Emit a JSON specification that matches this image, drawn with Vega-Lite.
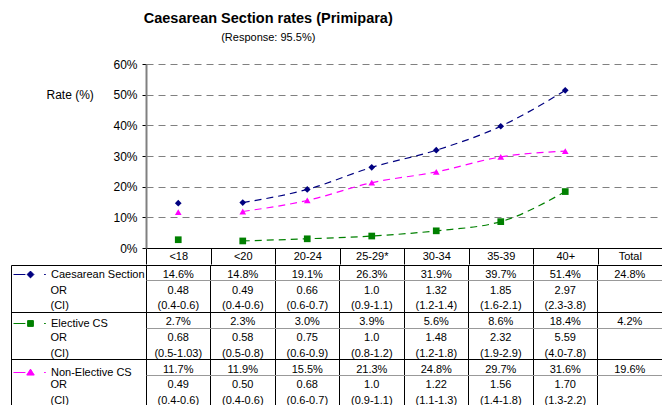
{
  "$schema": "https://vega.github.io/schema/vega-lite/v6.json",
  "padding": {"left": 10, "top": 10, "right": 0, "bottom": 0},
  "spacing": -10,
  "config": {
    "font": "Liberation Sans",
    "view": {"stroke": null},
    "legend": {"padding": 0, "symbolOpacity": 1, "symbolStrokeWidth": 1}
  },
  "title": {
    "text": "Caesarean Section rates (Primipara)",
    "subtitle": "(Response: 95.5%)",
    "fontSize": 14.5,
    "fontWeight": "bold",
    "color": "black",
    "subtitleFontSize": 11,
    "subtitleColor": "black",
    "subtitlePadding": 6,
    "anchor": "middle",
    "dx": -68,
    "offset": 14
  },
  "datasets": {
    "rates": [
      {"age": "<18", "series": "Caesarean Section", "rate": 14.6},
      {"age": "<20", "series": "Caesarean Section", "rate": 14.8},
      {"age": "20-24", "series": "Caesarean Section", "rate": 19.1},
      {"age": "25-29*", "series": "Caesarean Section", "rate": 26.3},
      {"age": "30-34", "series": "Caesarean Section", "rate": 31.9},
      {"age": "35-39", "series": "Caesarean Section", "rate": 39.7},
      {"age": "40+", "series": "Caesarean Section", "rate": 51.4},
      {"age": "<18", "series": "Elective CS", "rate": 2.7},
      {"age": "<20", "series": "Elective CS", "rate": 2.3},
      {"age": "20-24", "series": "Elective CS", "rate": 3.0},
      {"age": "25-29*", "series": "Elective CS", "rate": 3.9},
      {"age": "30-34", "series": "Elective CS", "rate": 5.6},
      {"age": "35-39", "series": "Elective CS", "rate": 8.6},
      {"age": "40+", "series": "Elective CS", "rate": 18.4},
      {"age": "<18", "series": "Non-Elective CS", "rate": 11.7},
      {"age": "<20", "series": "Non-Elective CS", "rate": 11.9},
      {"age": "20-24", "series": "Non-Elective CS", "rate": 15.5},
      {"age": "25-29*", "series": "Non-Elective CS", "rate": 21.3},
      {"age": "30-34", "series": "Non-Elective CS", "rate": 24.8},
      {"age": "35-39", "series": "Non-Elective CS", "rate": 29.7},
      {"age": "40+", "series": "Non-Elective CS", "rate": 31.6}
    ],
    "table": [
      {"r": "cs_pct", "c": "<18", "t": "14.6%"},
      {"r": "cs_pct", "c": "<20", "t": "14.8%"},
      {"r": "cs_pct", "c": "20-24", "t": "19.1%"},
      {"r": "cs_pct", "c": "25-29*", "t": "26.3%"},
      {"r": "cs_pct", "c": "30-34", "t": "31.9%"},
      {"r": "cs_pct", "c": "35-39", "t": "39.7%"},
      {"r": "cs_pct", "c": "40+", "t": "51.4%"},
      {"r": "cs_pct", "c": "Total", "t": "24.8%"},
      {"r": "cs_or", "c": "<18", "t": "0.48"},
      {"r": "cs_or", "c": "<20", "t": "0.49"},
      {"r": "cs_or", "c": "20-24", "t": "0.66"},
      {"r": "cs_or", "c": "25-29*", "t": "1.0"},
      {"r": "cs_or", "c": "30-34", "t": "1.32"},
      {"r": "cs_or", "c": "35-39", "t": "1.85"},
      {"r": "cs_or", "c": "40+", "t": "2.97"},
      {"r": "cs_ci", "c": "<18", "t": "(0.4-0.6)"},
      {"r": "cs_ci", "c": "<20", "t": "(0.4-0.6)"},
      {"r": "cs_ci", "c": "20-24", "t": "(0.6-0.7)"},
      {"r": "cs_ci", "c": "25-29*", "t": "(0.9-1.1)"},
      {"r": "cs_ci", "c": "30-34", "t": "(1.2-1.4)"},
      {"r": "cs_ci", "c": "35-39", "t": "(1.6-2.1)"},
      {"r": "cs_ci", "c": "40+", "t": "(2.3-3.8)"},
      {"r": "e_pct", "c": "<18", "t": "2.7%"},
      {"r": "e_pct", "c": "<20", "t": "2.3%"},
      {"r": "e_pct", "c": "20-24", "t": "3.0%"},
      {"r": "e_pct", "c": "25-29*", "t": "3.9%"},
      {"r": "e_pct", "c": "30-34", "t": "5.6%"},
      {"r": "e_pct", "c": "35-39", "t": "8.6%"},
      {"r": "e_pct", "c": "40+", "t": "18.4%"},
      {"r": "e_pct", "c": "Total", "t": "4.2%"},
      {"r": "e_or", "c": "<18", "t": "0.68"},
      {"r": "e_or", "c": "<20", "t": "0.58"},
      {"r": "e_or", "c": "20-24", "t": "0.75"},
      {"r": "e_or", "c": "25-29*", "t": "1.0"},
      {"r": "e_or", "c": "30-34", "t": "1.48"},
      {"r": "e_or", "c": "35-39", "t": "2.32"},
      {"r": "e_or", "c": "40+", "t": "5.59"},
      {"r": "e_ci", "c": "<18", "t": "(0.5-1.03)"},
      {"r": "e_ci", "c": "<20", "t": "(0.5-0.8)"},
      {"r": "e_ci", "c": "20-24", "t": "(0.6-0.9)"},
      {"r": "e_ci", "c": "25-29*", "t": "(0.8-1.2)"},
      {"r": "e_ci", "c": "30-34", "t": "(1.2-1.8)"},
      {"r": "e_ci", "c": "35-39", "t": "(1.9-2.9)"},
      {"r": "e_ci", "c": "40+", "t": "(4.0-7.8)"},
      {"r": "n_pct", "c": "<18", "t": "11.7%"},
      {"r": "n_pct", "c": "<20", "t": "11.9%"},
      {"r": "n_pct", "c": "20-24", "t": "15.5%"},
      {"r": "n_pct", "c": "25-29*", "t": "21.3%"},
      {"r": "n_pct", "c": "30-34", "t": "24.8%"},
      {"r": "n_pct", "c": "35-39", "t": "29.7%"},
      {"r": "n_pct", "c": "40+", "t": "31.6%"},
      {"r": "n_pct", "c": "Total", "t": "19.6%"},
      {"r": "n_or", "c": "<18", "t": "0.49"},
      {"r": "n_or", "c": "<20", "t": "0.50"},
      {"r": "n_or", "c": "20-24", "t": "0.68"},
      {"r": "n_or", "c": "25-29*", "t": "1.0"},
      {"r": "n_or", "c": "30-34", "t": "1.22"},
      {"r": "n_or", "c": "35-39", "t": "1.56"},
      {"r": "n_or", "c": "40+", "t": "1.70"},
      {"r": "n_ci", "c": "<18", "t": "(0.4-0.6)"},
      {"r": "n_ci", "c": "<20", "t": "(0.4-0.6)"},
      {"r": "n_ci", "c": "20-24", "t": "(0.6-0.7)"},
      {"r": "n_ci", "c": "25-29*", "t": "(0.9-1.1)"},
      {"r": "n_ci", "c": "30-34", "t": "(1.1-1.3)"},
      {"r": "n_ci", "c": "35-39", "t": "(1.4-1.8)"},
      {"r": "n_ci", "c": "40+", "t": "(1.3-2.2)"}
    ]
  },
  "resolve": {
    "scale": {"color": "independent", "shape": "independent", "fill": "independent", "stroke": "independent"},
    "legend": {"color": "independent", "shape": "independent", "fill": "independent", "stroke": "independent"}
  },
  "vconcat": [
    {
      "width": 516,
      "height": 184,
      "data": {"name": "rates"},
      "encoding": {
        "x": {
          "field": "age",
          "type": "nominal",
          "sort": null,
          "scale": {"type": "band", "domain": ["<18", "<20", "20-24", "25-29*", "30-34", "35-39", "40+", "Total"], "paddingInner": 0, "paddingOuter": 0},
          "axis": {"title": null, "labelAngle": 0, "tickBand": "extent", "tickSize": 16, "tickColor": "black", "domainColor": "black", "labelPadding": -14, "labelFontSize": 11, "labelColor": "black", "grid": false}
        },
        "y": {
          "field": "rate",
          "type": "quantitative",
          "scale": {"domain": [0, 60], "nice": false},
          "axis": {
            "values": [0, 10, 20, 30, 40, 50, 60],
            "labelExpr": "datum.value + '%'",
            "labelFontSize": 12,
            "labelColor": "black",
            "tickColor": "black",
            "tickSize": 4,
            "labelPadding": 5,
            "domainColor": "#808080",
            "domainWidth": 2,
            "grid": true,
            "gridColor": "#808080",
            "gridDash": [7, 5],
            "gridWidth": 1,
            "title": "Rate (%)",
            "titleAngle": 0,
            "titleX": -100,
            "titleY": 30,
            "titleAlign": "left",
            "titleBaseline": "middle",
            "titleFontSize": 12,
            "titleFontWeight": "normal",
            "titleColor": "black"
          }
        },
        "color": {
          "field": "series",
          "type": "nominal",
          "scale": {"domain": ["Caesarean Section", "Elective CS", "Non-Elective CS"], "range": ["#000080", "#008000", "#FF00FF"]},
          "legend": null
        }
      },
      "layer": [
        {
          "transform": [{"filter": "datum.age !== '<18'"}],
          "mark": {"type": "line", "interpolate": "monotone", "strokeDash": [7, 5], "strokeWidth": 1.2}
        },
        {
          "mark": {"type": "point", "filled": true, "size": 45, "opacity": 1},
          "encoding": {
            "shape": {
              "field": "series",
              "type": "nominal",
              "scale": {"domain": ["Caesarean Section", "Elective CS", "Non-Elective CS"], "range": ["diamond", "square", "triangle-up"]},
              "legend": null
            }
          }
        }
      ]
    },
    {
      "width": 516,
      "height": 142,
      "view": {"stroke": "black"},
      "layer": [
        {
          "data": {"name": "table"},
          "mark": {"type": "text", "fontSize": 11, "color": "black", "dy": 2},
          "encoding": {
            "x": {
              "field": "c",
              "type": "nominal",
              "sort": null,
              "scale": {"type": "band", "domain": ["<18", "<20", "20-24", "25-29*", "30-34", "35-39", "40+", "Total"], "paddingInner": 0, "paddingOuter": 0},
              "axis": {"title": null, "labels": false, "ticks": false, "domain": false, "grid": true, "gridColor": "black", "gridWidth": 1, "bandPosition": 0}
            },
            "y": {
              "field": "r",
              "type": "nominal",
              "sort": null,
              "scale": {"type": "band", "domain": ["cs_pct", "cs_or", "cs_ci", "e_pct", "e_or", "e_ci", "n_pct", "n_or", "n_ci"], "paddingInner": 0, "paddingOuter": 0},
              "axis": {
                "title": null,
                "orient": "left",
                "offset": 135,
                "tickSize": -135,
                "bandPosition": 0,
                "tickColor": "black",
                "tickOpacity": {"condition": {"test": "test(/_pct/, datum.value)", "value": 1}, "value": 0},
                "domainColor": "black",
                "grid": true,
                "gridColor": {"condition": {"test": "test(/_pct/, datum.value)", "value": "black"}, "value": "#999999"},
                "gridOpacity": {"condition": {"test": "test(/_ci/, datum.value)", "value": 0}, "value": 1},
                "labelExpr": "test(/_or/, datum.value) ? 'OR' : test(/_ci/, datum.value) ? '(CI)' : ''",
                "labelAlign": "left",
                "labelBaseline": "middle",
                "labelOffset": 2,
                "labelPadding": 96,
                "labelFontSize": 11,
                "labelColor": "black"
              }
            },
            "text": {"field": "t"}
          }
        },
        {
          "data": {"name": "rates"},
          "transform": [{"filter": "datum.age === '40+'"}],
          "mark": {"type": "point", "opacity": 0},
          "encoding": {
            "shape": {
              "field": "series",
              "type": "nominal",
              "scale": {"domain": ["Caesarean Section", "Elective CS", "Non-Elective CS"], "range": ["M-1,0H-0.3M0,-0.2L0.2,0L0,0.2L-0.2,0ZM0.8,0H0.9", "M-1,0H-0.3M-0.17,-0.17H0.17V0.17H-0.17ZM0.8,0H0.9", "M-1,0H-0.3M0,-0.2L0.22,0.15H-0.22ZM0.8,0H0.9"]},
              "legend": {"title": null, "orient": "none", "legendX": -133, "legendY": -8, "direction": "vertical", "symbolSize": 1156, "rowPadding": 26, "labelFontSize": 11, "labelColor": "black", "labelOffset": 3}
            },
            "fill": {
              "field": "series",
              "type": "nominal",
              "scale": {"domain": ["Caesarean Section", "Elective CS", "Non-Elective CS"], "range": ["#000080", "#008000", "#FF00FF"]},
              "legend": {"title": null, "orient": "none", "legendX": -133, "legendY": -8, "direction": "vertical", "symbolSize": 1156, "rowPadding": 26, "labelFontSize": 11, "labelColor": "black", "labelOffset": 3}
            },
            "stroke": {
              "field": "series",
              "type": "nominal",
              "scale": {"domain": ["Caesarean Section", "Elective CS", "Non-Elective CS"], "range": ["#000080", "#008000", "#FF00FF"]},
              "legend": {"title": null, "orient": "none", "legendX": -133, "legendY": -8, "direction": "vertical", "symbolSize": 1156, "rowPadding": 26, "labelFontSize": 11, "labelColor": "black", "labelOffset": 3}
            }
          }
        }
      ]
    }
  ]
}
